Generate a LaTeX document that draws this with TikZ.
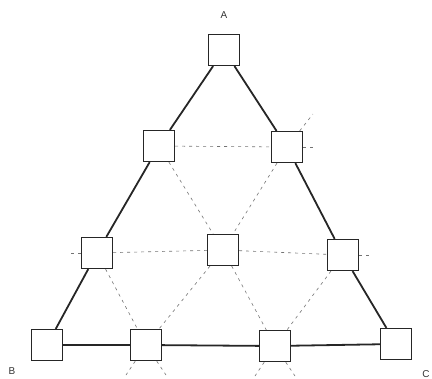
\documentclass[tikz,border=0pt]{standalone}
\usepackage{fontspec}
\setmainfont{Liberation Sans}
\begin{document}
\begin{tikzpicture}[x=1bp,y=-1bp,
  boxnode/.style={draw=black!85, line width=1.2bp, fill=white, minimum size=31bp, inner sep=0pt},
  sideline/.style={draw=black!85, line width=1.8bp},
  gridline/.style={draw=black!55, line width=0.6bp, dash pattern=on 3bp off 4bp},
  lbl/.style={font=\fontsize{10}{12}\selectfont, text=black!80}]
\useasboundingbox (0,0) rectangle (432,379);
% labels
\node[lbl] (la) at (224,15) {A};
\node[lbl] (lb) at (12,371) {B};
\node[lbl] (lc) at (426,374) {C};
% stub end points
\coordinate (sd2l) at (126,375);
\coordinate (sd2r) at (166,375);
\coordinate (sd3l) at (255,376);
\coordinate (sd3r) at (295,376);
\coordinate (sc1) at (70,253);
\coordinate (sc3) at (370,255);
\coordinate (sb2r) at (315,147);
\coordinate (sb2u) at (313,114);
% nodes
\node[boxnode] (a) at (224,50) {};
\node[boxnode] (b1) at (159,146) {};
\node[boxnode] (b2) at (287,147) {};
\node[boxnode] (c1) at (97,253) {};
\node[boxnode] (c2) at (223,250) {};
\node[boxnode] (c3) at (343,255) {};
\node[boxnode] (d1) at (47,345) {};
\node[boxnode] (d2) at (146,345) {};
\node[boxnode] (d3) at (275,346) {};
\node[boxnode] (d4) at (396,344) {};
% dashed grid
\draw[gridline] (b1) -- (b2);
\draw[gridline] (c1) -- (c2);
\draw[gridline] (c2) -- (c3);
\draw[gridline] (b1) -- (c2);
\draw[gridline] (b2) -- (c2);
\draw[gridline] (c1) -- (d2);
\draw[gridline] (c2) -- (d2);
\draw[gridline] (c2) -- (d3);
\draw[gridline] (c3) -- (d3);
\draw[gridline] (d2) -- (sd2l);
\draw[gridline] (d2) -- (sd2r);
\draw[gridline] (d3) -- (sd3l);
\draw[gridline] (d3) -- (sd3r);
\draw[gridline] (c1) -- (sc1);
\draw[gridline] (c3) -- (sc3);
\draw[gridline] (b2) -- (sb2r);
\draw[gridline] (b2) -- (sb2u);
% solid sides
\draw[sideline] (a) -- (b1);
\draw[sideline] (b1) -- (c1);
\draw[sideline] (c1) -- (d1);
\draw[sideline] (a) -- (b2);
\draw[sideline] (b2) -- (c3);
\draw[sideline] (c3) -- (d4);
\draw[sideline] (d1) -- (d2);
\draw[sideline] (d2) -- (d3);
\draw[sideline] (d3) -- (d4);
\end{tikzpicture}
\end{document}
